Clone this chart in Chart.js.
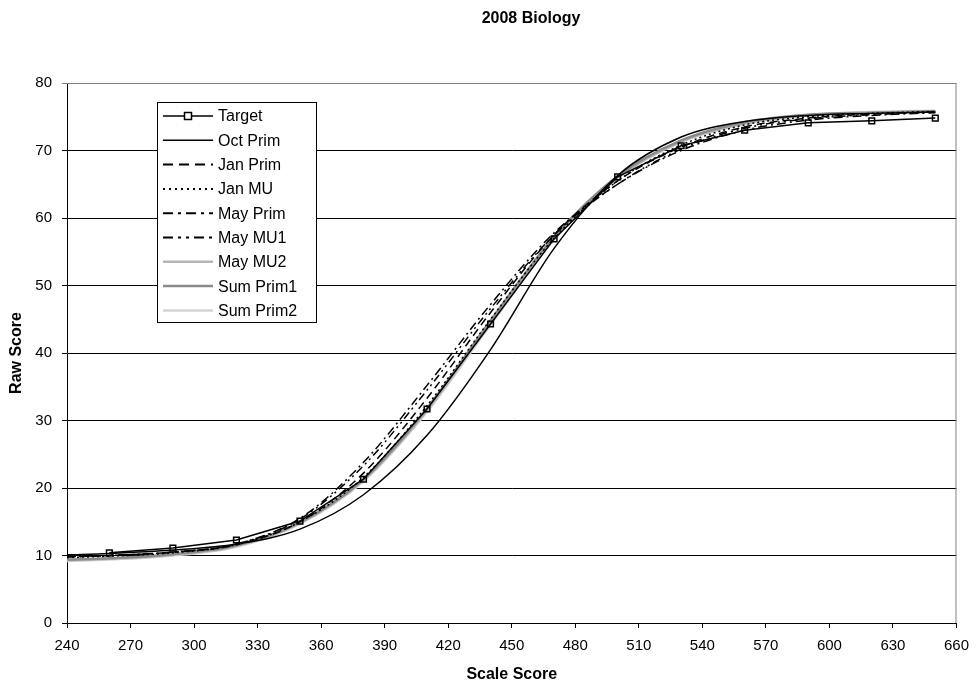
<!DOCTYPE html>
<html>
<head>
<meta charset="utf-8">
<script src="https://cdn.jsdelivr.net/npm/chart.js@4.4.0/dist/chart.umd.min.js"></script>
<style>
  html, body { margin: 0; padding: 0; background: #fff; }
  #wrap { width: 978px; height: 688px; }
</style>
</head>
<body>
<div id="wrap"><canvas id="chart" width="978" height="688"></canvas></div>
<script>
// values
var curveX = [240, 260, 290, 320, 350, 380, 410, 440, 470, 500, 530, 560, 590, 620, 650];
var targetX = [260, 290, 320, 350, 380, 410, 440, 470, 500, 530, 560, 590, 620, 650];
var target   = [10.4, 11.1, 12.3, 15.1, 21.3, 31.7, 44.3, 56.9, 66.1, 70.7, 73.0, 74.1, 74.4, 74.8];
var octPrim  = [10.1, 10.3, 10.8, 11.7, 13.9, 19.0, 27.8, 40.5, 55.5, 66.3, 72.0, 74.3, 75.2, 75.5, 75.7];
var janPrim  = [9.8, 10.0, 10.5, 11.6, 15.0, 22.2, 33.3, 46.0, 57.5, 65.5, 70.5, 73.5, 74.8, 75.4, 75.7];
var janMU    = [9.7, 9.9, 10.4, 11.6, 15.0, 21.6, 32.2, 45.0, 57.0, 65.5, 70.8, 73.8, 75.0, 75.5, 75.8];
var mayPrim  = [9.8, 10.0, 10.5, 11.7, 15.5, 23.8, 35.2, 47.2, 57.8, 65.0, 70.0, 73.0, 74.5, 75.2, 75.6];
var mayMU1   = [9.8, 10.0, 10.5, 11.7, 15.4, 23.3, 34.5, 46.6, 57.5, 65.0, 70.2, 73.3, 74.7, 75.3, 75.7];
var mayMU2   = [9.3, 9.5, 10.1, 11.4, 14.8, 21.2, 31.5, 44.5, 57.0, 66.0, 71.3, 74.0, 75.2, 75.6, 75.8];
var sumPrim1 = [9.4, 9.6, 10.2, 11.5, 14.9, 21.3, 31.8, 44.8, 57.2, 66.2, 71.5, 74.2, 75.3, 75.6, 75.8];
var sumPrim2 = [9.2, 9.4, 10.0, 11.3, 14.7, 21.0, 31.3, 44.2, 56.8, 66.0, 71.4, 74.1, 75.3, 75.7, 75.9];

var FONT = 'Liberation Sans, Arial, sans-serif';

function pts(xs, ys) {
  return xs.map(function (x, i) { return { x: x, y: ys[i] }; });
}

function curve(label, ys, color, width, dash) {
  return {
    label: label,
    data: pts(curveX, ys),
    borderColor: color,
    borderWidth: width,
    borderDash: dash || [],
    pointRadius: 0,
    fill: false,
    cubicInterpolationMode: 'monotone'
  };
}

// first dataset is drawn on top in Chart.js
var datasets = [
  {
    label: 'Target',
    data: pts(targetX, target),
    borderColor: '#000',
    borderWidth: 1.5,
    pointStyle: 'rect',
    pointRadius: 4,
    pointBackgroundColor: 'rgba(255,255,255,0)',
    pointBorderColor: '#000',
    pointBorderWidth: 1.5,
    fill: false,
    tension: 0
  },
  curve('Oct Prim', octPrim, '#000', 1.5),
  curve('May Prim', mayPrim, '#000', 1.5, [9, 4, 2, 4]),
  curve('May MU1', mayMU1, '#000', 1.5, [8, 4, 2, 4, 2, 4]),
  curve('Jan Prim', janPrim, '#000', 1.5, [8, 5]),
  curve('Jan MU', janMU, '#000', 1.5, [2, 3]),
  curve('Sum Prim1', sumPrim1, '#8a8a8a', 2.5),
  curve('May MU2', mayMU2, '#b4b4b4', 2.5),
  curve('Sum Prim2', sumPrim2, '#d4d4d4', 2.5)
];

// legend order and samples as in the picture
var legendItems = [
  { label: 'Target', color: '#000', width: 1.5, dash: [], marker: true },
  { label: 'Oct Prim', color: '#000', width: 1.5, dash: [] },
  { label: 'Jan Prim', color: '#000', width: 2, dash: [10, 6] },
  { label: 'Jan MU', color: '#000', width: 2, dash: [2, 4] },
  { label: 'May Prim', color: '#000', width: 2, dash: [10, 5, 3, 5] },
  { label: 'May MU1', color: '#000', width: 2, dash: [10, 5, 3, 5, 3, 5] },
  { label: 'May MU2', color: '#b4b4b4', width: 2.5, dash: [] },
  { label: 'Sum Prim1', color: '#8a8a8a', width: 2.5, dash: [] },
  { label: 'Sum Prim2', color: '#d4d4d4', width: 2.5, dash: [] }
];

var extras = {
  id: 'extras',
  afterDatasetsDraw: function (chart) {
    var ctx = chart.ctx;
    var a = chart.chartArea;
    ctx.save();
    // plot frame top/right
    ctx.strokeStyle = '#808080';
    ctx.lineWidth = 1;
    ctx.beginPath();
    ctx.moveTo(a.left, a.top + 0.5);
    ctx.lineTo(a.right - 0.5, a.top + 0.5);
    ctx.lineTo(a.right - 0.5, a.bottom);
    ctx.stroke();

    // legend box
    var bx = 157, by = 102, bw = 159, bh = 220;
    ctx.fillStyle = '#fff';
    ctx.fillRect(bx, by, bw, bh);
    ctx.strokeStyle = '#000';
    ctx.lineWidth = 1;
    ctx.strokeRect(bx + 0.5, by + 0.5, bw, bh);
    ctx.font = '16px ' + FONT;
    ctx.textBaseline = 'middle';
    legendItems.forEach(function (it, i) {
      var y = 116 + i * 24.3;
      ctx.strokeStyle = it.color;
      ctx.lineWidth = it.width;
      ctx.setLineDash(it.dash);
      ctx.beginPath();
      ctx.moveTo(163, y);
      ctx.lineTo(213, y);
      ctx.stroke();
      ctx.setLineDash([]);
      if (it.marker) {
        ctx.fillStyle = '#fff';
        ctx.fillRect(184.5, y - 3.5, 7, 7);
        ctx.lineWidth = 1.5;
        ctx.strokeRect(184.5, y - 3.5, 7, 7);
      }
      ctx.fillStyle = '#000';
      ctx.textAlign = 'left';
      ctx.fillText(it.label, 218, y + 1);
    });

    // chart title
    ctx.font = 'bold 16px ' + FONT;
    ctx.textAlign = 'center';
    ctx.fillStyle = '#000';
    ctx.fillText('2008 Biology', 531, 19);
    ctx.restore();
  }
};

new Chart(document.getElementById('chart'), {
  type: 'line',
  data: { datasets: datasets },
  options: {
    responsive: false,
    animation: false,
    devicePixelRatio: 1,
    layout: { padding: { top: 83, right: 20, left: 0, bottom: 0 } },
    plugins: {
      legend: { display: false },
      title: { display: false },
      tooltip: { enabled: false }
    },
    scales: {
      x: {
        type: 'linear',
        min: 240,
        max: 660,
        afterFit: function (s) { s.height = 65; },
        ticks: {
          stepSize: 30,
          color: '#000',
          font: { family: FONT, size: 15 },
          padding: 9,
          maxRotation: 0
        },
        grid: { drawOnChartArea: false, drawTicks: true, tickLength: 5, color: '#000' },
        border: { color: '#000', width: 1 },
        title: {
          display: true,
          text: 'Scale Score',
          color: '#000',
          font: { family: FONT, size: 16, weight: 'bold' },
          padding: { top: 4, bottom: 4 }
        }
      },
      y: {
        min: 0,
        max: 80,
        afterFit: function (s) { s.width = 67; },
        ticks: {
          stepSize: 10,
          color: '#000',
          font: { family: FONT, size: 15 },
          padding: 10
        },
        grid: {
          drawTicks: true,
          tickLength: 5,
          color: function (c) { return c.tick && c.tick.value === 80 ? '#808080' : '#000'; }
        },
        border: { color: '#000', width: 1 },
        title: {
          display: true,
          text: 'Raw Score',
          color: '#000',
          font: { family: FONT, size: 16, weight: 'bold' },
          padding: { top: 7, bottom: 0 }
        }
      }
    }
  },
  plugins: [extras]
});
</script>
</body>
</html>
